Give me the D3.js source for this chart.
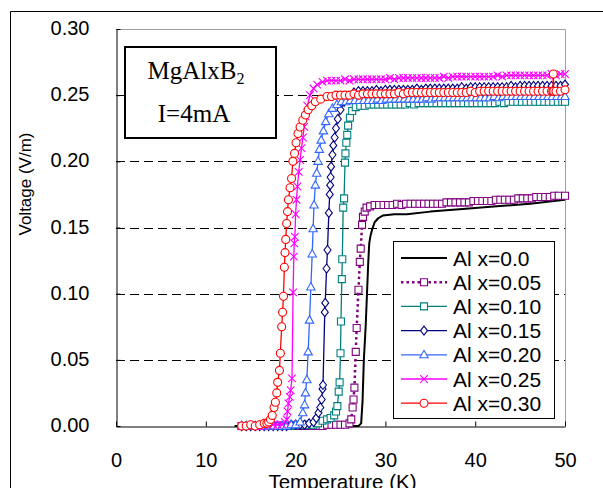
<!DOCTYPE html>
<html><head><meta charset="utf-8">
<script src="https://cdn.jsdelivr.net/npm/d3@7"></script>
<style>html,body{margin:0;padding:0;background:#fff;} svg{display:block;}</style>
</head><body><svg id="c" width="603" height="488"></svg>
<script>
// ---------------- DATA ----------------
const seriesNames = ["Al x=0.0","Al x=0.05","Al x=0.10","Al x=0.15","Al x=0.20","Al x=0.25","Al x=0.30"];
const xTicks = [0,10,20,30,40,50];
const yTicks = [0,0.05,0.10,0.15,0.20,0.25,0.30];
const gridValues = [0.05,0.10,0.15,0.20,0.25];
const xTitle = "Temperature (K)";
const yTitle = "Voltage (V/m)";
const boxLine1 = "MgAlxB", boxSub = "2", boxLine2 = "I=4mA";

// [temperature K, voltage V/m]
const al00 = [[13.2,0.000],[14.0,0.000],[15.0,0.000],[16.0,0.000],[17.0,0.000],[18.0,0.000],[19.0,0.000],[20.0,0.000],[21.0,0.000],[22.0,0.000],[23.0,0.000],[24.0,0.000],[25.0,0.000],[26.0,0.000],[27.0,0.000],[27.3,0.002],[27.45,0.018],[27.6,0.050],[27.8,0.075],[27.95,0.100],[28.1,0.125],[28.2,0.138],[28.35,0.144],[28.5,0.148],[28.8,0.154],[29.2,0.157],[29.7,0.159],[31.0,0.160],[32.4,0.160],[35.0,0.162],[38.6,0.164],[42.4,0.166],[46.1,0.168],[50.0,0.171]];

const al05 = [[14.0,0.000],[14.5,0.000],[15.0,0.000],[15.5,0.000],[16.0,0.000],[16.5,0.000],[17.0,0.000],[17.5,0.000],[18.0,0.000],[18.5,0.000],[19.0,0.000],[19.5,0.000],[20.0,0.000],[20.5,0.000],[21.0,0.000],[21.5,0.000],[22.0,0.000],[22.5,0.000],[23.0,0.000],[23.5,0.001],[24.0,0.001],[24.5,0.001],[25.0,0.001],[25.5,0.001],[26.0,0.002],[26.2,0.005],[26.35,0.014],[26.45,0.020],[26.55,0.029],[26.7,0.056],[26.8,0.074],[27.0,0.103],[27.15,0.124],[27.25,0.134],[27.4,0.152],[27.5,0.158],[27.7,0.162],[27.9,0.165],[28.3,0.166],[28.8,0.167],[29.3,0.167],[29.8,0.167],[30.3,0.167],[30.8,0.167],[31.3,0.168],[31.8,0.167],[32.3,0.168],[32.8,0.168],[33.3,0.168],[33.8,0.168],[34.3,0.168],[34.8,0.168],[35.3,0.168],[35.8,0.168],[36.3,0.168],[36.8,0.169],[37.3,0.169],[37.8,0.169],[38.3,0.169],[38.8,0.169],[39.3,0.169],[39.8,0.170],[40.3,0.170],[40.8,0.170],[41.3,0.170],[41.8,0.170],[42.3,0.171],[42.8,0.171],[43.3,0.171],[43.8,0.171],[44.3,0.171],[44.8,0.172],[45.3,0.172],[45.8,0.172],[46.3,0.172],[46.8,0.173],[47.3,0.173],[47.8,0.173],[48.3,0.173],[48.8,0.174],[49.3,0.174],[50.0,0.174]];

const al10 = [[14.0,0.000],[14.5,0.000],[15.0,0.000],[15.5,0.000],[16.0,0.000],[16.5,0.000],[17.0,0.000],[17.5,0.000],[18.0,0.000],[18.5,0.000],[19.0,0.000],[19.5,0.000],[20.0,0.001],[20.5,0.001],[21.0,0.001],[21.5,0.001],[22.0,0.001],[22.5,0.002],[23.0,0.004],[23.5,0.005],[23.9,0.006],[24.3,0.008],[24.5,0.011],[24.65,0.015],[24.8,0.026],[24.9,0.033],[25.0,0.055],[25.05,0.079],[25.15,0.111],[25.2,0.126],[25.3,0.165],[25.4,0.172],[25.5,0.199],[25.55,0.206],[25.65,0.214],[25.75,0.220],[25.85,0.227],[26.05,0.233],[26.3,0.238],[26.7,0.241],[27.2,0.242],[27.7,0.242],[28.2,0.243],[28.7,0.243],[29.2,0.243],[29.7,0.243],[30.2,0.243],[30.7,0.243],[31.2,0.243],[31.7,0.243],[32.2,0.243],[32.7,0.244],[33.2,0.243],[33.7,0.244],[34.2,0.244],[34.7,0.244],[35.2,0.244],[35.7,0.244],[36.2,0.244],[36.7,0.244],[37.2,0.244],[37.7,0.244],[38.2,0.244],[38.7,0.244],[39.2,0.244],[39.7,0.244],[40.2,0.244],[40.7,0.244],[41.2,0.244],[41.7,0.244],[42.2,0.244],[42.7,0.245],[43.2,0.244],[43.7,0.245],[44.2,0.245],[44.7,0.245],[45.2,0.245],[45.7,0.245],[46.2,0.245],[46.7,0.245],[47.2,0.245],[47.7,0.245],[48.2,0.245],[48.7,0.245],[49.2,0.245],[49.7,0.245],[50.0,0.245]];

const al15 = [[14.0,0.000],[14.5,0.000],[15.0,0.000],[15.5,0.000],[16.0,0.000],[16.5,0.000],[17.0,0.000],[17.5,0.000],[18.0,0.000],[18.5,0.000],[19.0,0.000],[19.5,0.001],[20.0,0.001],[20.5,0.001],[21.0,0.001],[21.5,0.002],[22.0,0.003],[22.3,0.006],[22.55,0.010],[22.75,0.014],[22.9,0.020],[23.0,0.028],[23.05,0.031],[23.25,0.086],[23.3,0.093],[23.45,0.119],[23.55,0.133],[23.7,0.161],[23.8,0.175],[23.85,0.182],[23.9,0.188],[23.95,0.196],[24.1,0.205],[24.2,0.212],[24.35,0.218],[24.5,0.225],[24.7,0.232],[25.0,0.239],[25.4,0.245],[25.9,0.249],[26.5,0.252],[27.0,0.253],[27.5,0.253],[28.0,0.253],[28.5,0.253],[29.0,0.254],[29.5,0.253],[30.0,0.254],[30.5,0.254],[31.0,0.254],[31.5,0.254],[32.0,0.254],[32.5,0.254],[33.0,0.254],[33.5,0.255],[34.0,0.254],[34.5,0.255],[35.0,0.255],[35.5,0.255],[36.0,0.255],[36.5,0.255],[37.0,0.255],[37.5,0.255],[38.0,0.255],[38.5,0.256],[39.0,0.255],[39.5,0.256],[40.0,0.256],[40.5,0.256],[41.0,0.256],[41.5,0.256],[42.0,0.256],[42.5,0.256],[43.0,0.256],[43.5,0.256],[44.0,0.257],[44.5,0.256],[45.0,0.257],[45.5,0.257],[46.0,0.257],[46.5,0.257],[47.0,0.257],[47.5,0.257],[48.0,0.257],[48.5,0.257],[49.0,0.257],[49.5,0.257],[50.0,0.258]];

const al20 = [[14.0,0.000],[14.5,0.000],[15.0,0.000],[15.5,0.000],[16.0,0.000],[16.5,0.000],[17.0,0.000],[17.5,0.000],[18.0,0.000],[18.5,0.000],[19.0,0.000],[19.5,0.001],[20.0,0.001],[20.5,0.003],[20.8,0.010],[21.0,0.016],[21.1,0.025],[21.25,0.035],[21.4,0.056],[21.55,0.080],[21.7,0.105],[21.85,0.130],[21.95,0.149],[22.05,0.167],[22.2,0.182],[22.35,0.191],[22.5,0.200],[22.65,0.209],[22.85,0.216],[23.1,0.223],[23.35,0.230],[23.7,0.236],[24.1,0.240],[24.6,0.243],[25.1,0.245],[25.6,0.245],[26.1,0.246],[26.6,0.246],[27.1,0.246],[27.6,0.246],[28.1,0.246],[28.6,0.246],[29.1,0.247],[29.6,0.246],[30.1,0.247],[30.6,0.247],[31.1,0.247],[31.6,0.247],[32.1,0.247],[32.6,0.247],[33.1,0.247],[33.6,0.247],[34.1,0.247],[34.6,0.248],[35.1,0.247],[35.6,0.248],[36.1,0.248],[36.6,0.248],[37.1,0.248],[37.6,0.248],[38.1,0.248],[38.6,0.248],[39.1,0.248],[39.6,0.248],[40.1,0.248],[40.6,0.248],[41.1,0.248],[41.6,0.248],[42.1,0.249],[42.6,0.248],[43.1,0.249],[43.6,0.249],[44.1,0.249],[44.6,0.249],[45.1,0.249],[45.6,0.249],[46.1,0.249],[46.6,0.249],[47.1,0.249],[47.6,0.249],[48.1,0.249],[48.6,0.249],[49.1,0.249],[49.6,0.249],[50.0,0.249]];

const al25 = [[14.0,0.000],[14.5,0.000],[15.0,0.000],[15.5,0.000],[16.0,0.000],[16.5,0.000],[17.0,0.000],[17.5,0.001],[18.0,0.001],[18.5,0.001],[18.8,0.003],[19.0,0.005],[19.1,0.011],[19.2,0.017],[19.35,0.022],[19.45,0.027],[19.6,0.036],[19.72,0.101],[19.8,0.128],[19.85,0.138],[19.92,0.143],[20.0,0.160],[20.1,0.171],[20.2,0.181],[20.35,0.192],[20.5,0.201],[20.65,0.210],[20.82,0.218],[20.95,0.226],[21.1,0.234],[21.3,0.242],[21.6,0.250],[22.0,0.255],[22.4,0.258],[23.0,0.260],[23.5,0.261],[24.0,0.261],[24.5,0.261],[25.0,0.261],[25.5,0.262],[26.0,0.261],[26.5,0.262],[27.0,0.262],[27.5,0.262],[28.0,0.262],[28.5,0.262],[29.0,0.262],[29.5,0.262],[30.0,0.262],[30.5,0.263],[31.0,0.262],[31.5,0.263],[32.0,0.263],[32.5,0.263],[33.0,0.263],[33.5,0.263],[34.0,0.263],[34.5,0.263],[35.0,0.263],[35.5,0.263],[36.0,0.263],[36.5,0.264],[37.0,0.263],[37.5,0.264],[38.0,0.264],[38.5,0.264],[39.0,0.264],[39.5,0.264],[40.0,0.264],[40.5,0.264],[41.0,0.264],[41.5,0.264],[42.0,0.264],[42.5,0.265],[43.0,0.264],[43.5,0.265],[44.0,0.265],[44.5,0.265],[45.0,0.265],[45.5,0.265],[46.0,0.265],[46.5,0.265],[47.0,0.265],[47.5,0.265],[48.0,0.265],[48.5,0.266],[49.0,0.265],[49.5,0.266],[50.0,0.266]];

const al30 = [[14.0,0.000],[14.5,0.000],[15.0,0.001],[15.5,0.000],[16.0,0.001],[16.5,0.002],[16.8,0.002],[17.0,0.003],[17.2,0.005],[17.4,0.008],[17.6,0.014],[17.75,0.018],[17.9,0.025],[18.0,0.033],[18.2,0.042],[18.3,0.055],[18.45,0.075],[18.55,0.086],[18.65,0.098],[18.75,0.120],[18.82,0.131],[18.9,0.141],[19.0,0.153],[19.1,0.162],[19.2,0.171],[19.38,0.180],[19.55,0.187],[19.7,0.200],[19.88,0.206],[20.05,0.214],[20.27,0.221],[20.5,0.226],[20.8,0.231],[21.1,0.235],[21.4,0.239],[21.8,0.242],[22.2,0.245],[22.8,0.247],[23.5,0.249],[24.0,0.249],[24.5,0.250],[25.0,0.250],[25.5,0.250],[26.0,0.250],[26.5,0.251],[27.0,0.250],[27.5,0.251],[28.0,0.251],[28.5,0.251],[29.0,0.251],[29.5,0.251],[30.0,0.251],[30.5,0.251],[31.0,0.251],[31.5,0.252],[32.0,0.251],[32.5,0.252],[33.0,0.252],[33.5,0.252],[34.0,0.252],[34.5,0.252],[35.0,0.252],[35.5,0.252],[36.0,0.252],[36.5,0.252],[37.0,0.252],[37.5,0.252],[38.0,0.252],[38.5,0.252],[39.0,0.252],[39.5,0.253],[40.0,0.252],[40.5,0.253],[41.0,0.253],[41.5,0.253],[42.0,0.253],[42.5,0.253],[43.0,0.253],[43.5,0.253],[44.0,0.253],[44.5,0.253],[45.0,0.253],[45.5,0.253],[46.0,0.253],[46.5,0.253],[47.0,0.253],[47.5,0.253],[48.0,0.253],[48.5,0.253],[48.65,0.253],[48.7,0.266],[48.75,0.253],[49.0,0.253],[49.5,0.253],[50.0,0.254]];

const seriesData = [al00, al05, al10, al15, al20, al25, al30];

// ---------------- STYLE ----------------
const styles = [
  {color:"#000000", width:2,   dash:null,  marker:null},
  {color:"#800080", width:2.5, dash:"2.5,3", marker:"square"},
  {color:"#008080", width:1.3, dash:null,  marker:"square"},
  {color:"#000080", width:1.3, dash:null,  marker:"diamond"},
  {color:"#3366FF", width:1.3, dash:null,  marker:"triangle"},
  {color:"#FF00FF", width:1.3, dash:null,  marker:"cross"},
  {color:"#FF0000", width:1.3, dash:null,  marker:"circle"}
];
const markerPaths = {
  square:  "M-3.5,-3.5H3.5V3.5H-3.5Z",
  diamond: "M0,-4.5L3.5,0L0,4.5L-3.5,0Z",
  triangle:"M0,-4.5L4.2,3L-4.2,3Z",
  cross:   "M-3.8,-3.8L3.8,3.8M-3.8,3.8L3.8,-3.8",
  circle:  "M4,0A4,4 0 1,1 -4,0A4,4 0 1,1 4,0Z"
};

const svg = d3.select("#c");
const P = {left:116, right:565, top:29, bottom:426};
const x = d3.scaleLinear().domain([0,50]).range([P.left,P.right]);
const y = d3.scaleLinear().domain([0,0.30]).range([P.bottom,P.top]);
const sansFont = "'Liberation Sans', Arial, sans-serif";
const serifFont = "'Liberation Serif', 'Times New Roman', serif";

svg.append("rect").attr("width",603).attr("height",488).attr("fill","#fff");

// outer frame (left & top)
svg.append("path").attr("d","M10.5,488V11.5H603").attr("fill","none").attr("stroke","#000").attr("stroke-width",1);

// grid lines
svg.append("g").selectAll("line").data(gridValues).join("line")
  .attr("x1",P.left).attr("x2",P.right)
  .attr("y1",d=>Math.round(y(d))+0.5).attr("y2",d=>Math.round(y(d))+0.5)
  .attr("stroke","#000").attr("stroke-width",1).attr("stroke-dasharray","9,5");

// top & right plot borders (grey)
svg.append("path").attr("d",`M${P.left},${P.top+0.5}H${P.right+0.5}V${P.bottom}`)
  .attr("fill","none").attr("stroke","#a0a0a0").attr("stroke-width",1);

// axes
const xAxis = svg.append("g").attr("transform",`translate(0,${P.bottom+0.5})`)
  .call(d3.axisBottom(x).tickValues(xTicks).tickFormat(d3.format("d")).tickSizeInner(-5).tickSizeOuter(0).tickPadding(26));
const yAxis = svg.append("g").attr("transform",`translate(${P.left+0.5},0)`)
  .call(d3.axisLeft(y).tickValues(yTicks).tickFormat(d3.format(".2f")).tickSizeInner(-4).tickSizeOuter(0).tickPadding(27));
[xAxis,yAxis].forEach(g=>{
  g.select(".domain").attr("stroke","#000").attr("stroke-width",1);
  g.selectAll(".tick line").attr("stroke","#000");
  g.selectAll("text").attr("font-family",sansFont).attr("font-size",20).attr("fill","#000");
});
yAxis.selectAll("text").attr("dy","0.28em");

// series
const line = d3.line().x(d=>x(d[0])).y(d=>y(d[1]));
const plot = svg.append("g");
seriesData.forEach((data,i)=>{
  const st = styles[i];
  const g = plot.append("g");
  g.append("path").datum(data).attr("d",line).attr("fill","none")
    .attr("stroke",st.color).attr("stroke-width",st.width)
    .attr("stroke-dasharray",st.dash).attr("stroke-linejoin","round");
  if(st.marker){
    g.selectAll("path.m").data(data).join("path").attr("class","m")
      .attr("transform",d=>`translate(${x(d[0])},${y(d[1])})`)
      .attr("d",markerPaths[st.marker])
      .attr("fill",st.marker==="cross"?"none":"#fff")
      .attr("stroke",st.color).attr("stroke-width",1.1);
  }
});

// axis titles
svg.append("text").attr("x",(P.left+P.right)/2+2).attr("y",488.5)
  .attr("text-anchor","middle").attr("font-family",sansFont).attr("font-size",20.5).text(xTitle);
svg.append("text").attr("transform","translate(31,184) rotate(-90)")
  .attr("text-anchor","middle").attr("font-family",sansFont).attr("font-size",17).text(yTitle);

// text box
svg.append("rect").attr("x",125).attr("y",47).attr("width",151).attr("height",91)
  .attr("fill","#fff").attr("stroke","#000").attr("stroke-width",2);
const t1 = svg.append("text").attr("x",196).attr("y",79).attr("text-anchor","middle")
  .attr("font-family",serifFont).attr("font-size",25);
t1.append("tspan").text(boxLine1);
t1.append("tspan").attr("font-size",16).attr("dy",5).text(boxSub);
svg.append("text").attr("x",194).attr("y",122).attr("text-anchor","middle")
  .attr("font-family",serifFont).attr("font-size",25).text(boxLine2);

// legend
const L = {x:393, y:241, w:161, h:177, row0:258, step:24.2};
const lg = svg.append("g");
lg.append("rect").attr("x",L.x+0.5).attr("y",L.y+0.5).attr("width",L.w).attr("height",L.h)
  .attr("fill","#fff").attr("stroke","#000").attr("stroke-width",1);
seriesNames.forEach((name,i)=>{
  const st = styles[i];
  const cy = L.row0 + i*L.step;
  lg.append("line").attr("x1",401).attr("x2",447).attr("y1",cy).attr("y2",cy)
    .attr("stroke",st.color).attr("stroke-width",st.width).attr("stroke-dasharray",st.dash);
  if(st.marker){
    lg.append("path").attr("transform",`translate(424,${cy})`).attr("d",markerPaths[st.marker])
      .attr("fill",st.marker==="cross"?"none":"#fff").attr("stroke",st.color).attr("stroke-width",1.1);
  }
  lg.append("text").attr("x",453).attr("y",cy+7.6).attr("font-family",sansFont)
    .attr("font-size",21).attr("fill","#000").text(name);
});
</script></body></html>
